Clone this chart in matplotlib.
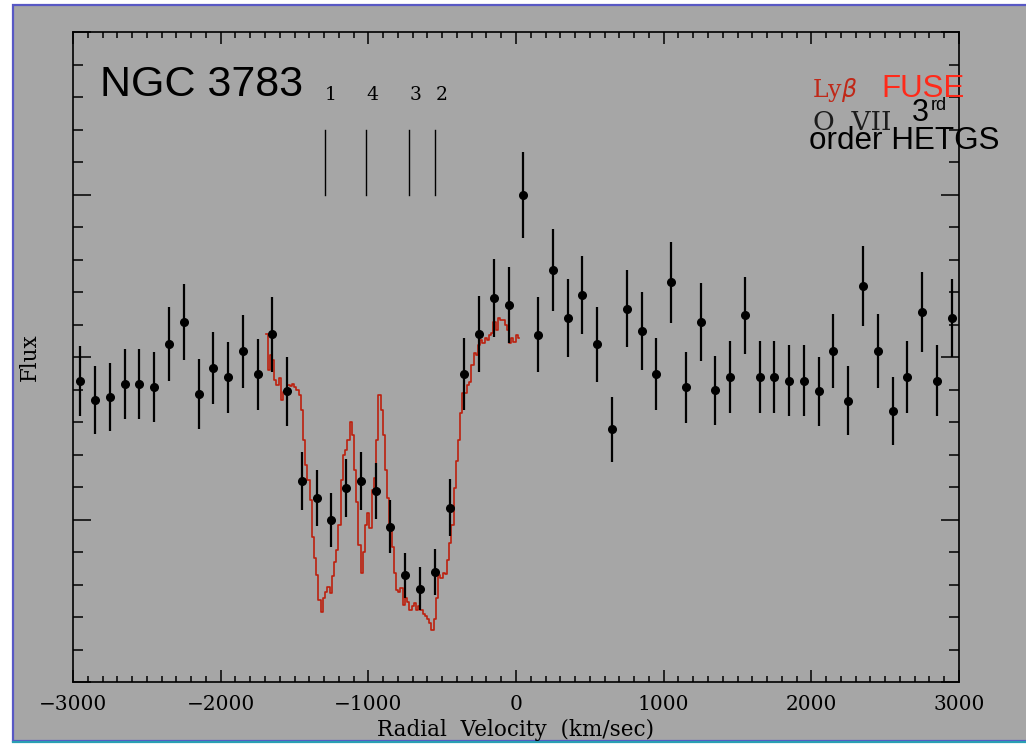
import numpy as np
import matplotlib.pyplot as plt
from matplotlib.patches import Rectangle
from matplotlib.lines import Line2D
from matplotlib.ticker import MultipleLocator, NullFormatter

# O VII 3rd order HETGS points (binned every 100 km/s)
vel_hetgs = np.arange(-2950, 3000, 100)
flux_hetgs = [9.27, 8.67, 8.77, 9.18, 9.17, 9.07, 10.39, 11.08, 8.87, 9.65,
              9.38, 10.18, 9.47, 10.70, 8.95, 6.18, 5.67, 4.98, 5.96, 6.18,
              5.88, 4.78, 3.28, 2.87, 3.38, 5.36, 9.47, 10.70, 11.81, 11.60,
              14.99, 10.69, 12.68, 11.19, 11.90, 10.39, 7.78, 11.49, 10.80, 9.48,
              12.30, 9.07, 11.08, 8.98, 9.38, 11.28, 9.38, 9.38, 9.27, 9.27,
              8.95, 10.18, 8.66, 12.19, 10.18, 8.35, 9.38, 11.38, 9.27, 11.19]
err_hetgs = [1.08, 1.05, 1.05, 1.08, 1.08, 1.08, 1.14, 1.17, 1.08, 1.11,
             1.09, 1.12, 1.09, 1.15, 1.06, 0.89, 0.86, 0.83, 0.89, 0.89,
             0.86, 0.82, 0.68, 0.66, 0.71, 0.88, 1.11, 1.17, 1.20, 1.18,
             1.32, 1.15, 1.26, 1.20, 1.20, 1.15, 1.00, 1.18, 1.20, 1.11,
             1.25, 1.09, 1.20, 1.06, 1.11, 1.18, 1.11, 1.11, 1.09, 1.09,
             1.06, 1.14, 1.05, 1.23, 1.14, 1.05, 1.11, 1.22, 1.09, 1.20]

# FUSE Ly-beta profile, 15 km/s sampling
vel_fuse = np.arange(-1690, 21, 15)
flux_fuse = [10.71, 9.60, 10.06, 9.91, 9.29, 9.14, 9.35, 8.68, 8.92, 8.98,
             9.14, 9.11, 9.17, 9.08, 8.98, 8.83, 8.37, 7.45, 6.68, 6.22,
             5.60, 4.46, 3.82, 3.29, 2.52, 2.15, 2.58, 2.77, 2.92, 2.74,
             3.26, 3.69, 4.06, 4.83, 6.22, 6.98, 7.14, 7.45, 8.00, 7.60,
             6.52, 5.54, 4.22, 3.35, 4.00, 4.83, 5.20, 4.74, 5.91, 6.28,
             7.45, 8.83, 8.37, 7.60, 6.52, 5.66, 4.83, 4.15, 3.35, 2.83,
             2.77, 2.89, 2.37, 2.58, 2.46, 2.22, 2.34, 2.43, 2.22, 2.34,
             2.22, 2.09, 2.03, 1.94, 1.82, 1.60, 1.94, 2.58, 3.29, 3.20,
             3.35, 3.32, 3.75, 4.28, 4.83, 5.97, 6.80, 7.45, 8.28, 8.89,
             8.89, 9.14, 9.23, 9.75, 10.12, 10.06, 10.37, 10.52, 10.43, 10.58,
             10.52, 10.68, 10.74, 11.08, 10.83, 11.20, 11.14, 11.14, 10.98, 10.83,
             10.43, 10.58, 10.46, 10.68, 10.58]

# UV absorption components
comp_vel = [-1295, -1015, -722, -546]
comp_names = ["1", "4", "3", "2"]

bg = "#a6a6a6"
serif = "DejaVu Serif"
sans = "Liberation Sans"

W, H = 1026, 744
fig = plt.figure(figsize=(W / 100, H / 100), dpi=100, facecolor="white")

# slide panel behind the plot
fig.add_artist(Rectangle((13 / W, 1 - 741 / H), 1.1, 736 / H, transform=fig.transFigure,
                         facecolor=bg, edgecolor="#5858c4", lw=1.6, zorder=-2))
fig.add_artist(Line2D([13 / W, 1], [1 - 741.5 / H] * 2, transform=fig.transFigure,
                      color="#2a9fb4", lw=1.6, zorder=-1))

ax = fig.add_axes([73 / W, 1 - 682 / H, 886 / W, 650 / H])
ax.set_facecolor(bg)

ax.plot(vel_fuse, flux_fuse, color="#bc200e", lw=1.2, drawstyle="steps-mid", zorder=2)
ax.errorbar(vel_hetgs, flux_hetgs, yerr=err_hetgs, fmt="o", color="black",
            ms=5.5, elinewidth=1.6, capsize=0, zorder=3)

for v, name in zip(comp_vel, comp_names):
    ax.plot([v, v], [15.0, 17.0], color="black", lw=1.0)
    ax.text(v, 17.9, name, family=serif, fontsize=13.5, ha="left", va="baseline")

ax.text(-2820, 18.03, "NGC 3783", family=sans, fontsize=31, va="baseline")
ax.text(2003, 18.0, r"Ly$\beta$", family=serif, fontsize=17, color="#c02818", va="baseline")
ax.text(2471, 18.0, "FUSE", family=sans, fontsize=22.5, color="#ff2a1a", va="baseline")
ax.text(2010, 16.98, "O  VII", family=serif, fontsize=19, color="#1c1c1c", va="baseline")
ax.text(2681, 17.25, "3", family=sans, fontsize=22, va="baseline")
ax.text(2810, 17.6, "rd", family=sans, fontsize=13, va="baseline")
ax.text(1985, 16.4, "order HETGS", family=sans, fontsize=22.6, va="baseline")

ax.set_xlim(-3000, 3000)
ax.set_ylim(0, 20)
ax.xaxis.set_major_locator(MultipleLocator(1000))
ax.xaxis.set_minor_locator(MultipleLocator(100))
ax.yaxis.set_major_locator(MultipleLocator(5))
ax.yaxis.set_minor_locator(MultipleLocator(1))
ax.yaxis.set_major_formatter(NullFormatter())

ax.tick_params(which="both", direction="in", top=True, right=True, width=1.1, color="black")
ax.tick_params(axis="x", which="major", length=8.6, pad=9)
ax.tick_params(axis="x", which="minor", length=4.3)
ax.tick_params(axis="y", which="major", length=13)
ax.tick_params(axis="y", which="minor", length=7)
for lab in ax.get_xticklabels():
    lab.set_family(serif)
    lab.set_fontsize(14.5)
for s in ax.spines.values():
    s.set_linewidth(1.2)

ax.set_xlabel("Radial  Velocity  (km/sec)", family=serif, fontsize=15.5, labelpad=4)
ax.set_ylabel("Flux", family=serif, fontsize=15.5)
ax.yaxis.set_label_coords(-0.036, 0.5)

fig.savefig("out.png", dpi=100, facecolor=fig.get_facecolor())
